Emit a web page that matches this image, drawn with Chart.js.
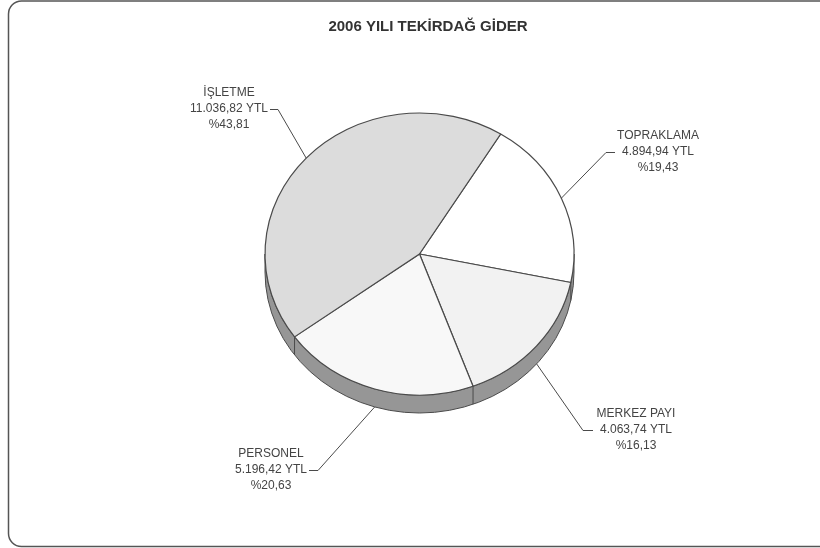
<!DOCTYPE html>
<html lang="tr">
<head>
<meta charset="utf-8">
<title>2006 YILI TEKİRDAĞ GİDER</title>
<script src="https://cdn.jsdelivr.net/npm/chart.js@4"></script>
<style>
    html, body { margin: 0; padding: 0; background: #fff; overflow: hidden; }
    #wrap { width: 820px; height: 548px; }
</style>
</head>
<body>
<div id="wrap"><canvas id="giderChart" width="820" height="548"></canvas></div>
<script>
// Veriler
const chartTitle = '2006 YILI TEKİRDAĞ GİDER';
const categories = ['TOPRAKLAMA', 'MERKEZ PAYI', 'PERSONEL', 'İŞLETME'];
const amounts = [4894.94, 4063.74, 5196.42, 11036.82];
const amountTexts = ['4.894,94 YTL', '4.063,74 YTL', '5.196,42 YTL', '11.036,82 YTL'];
const percentTexts = ['%19,43', '%16,13', '%20,63', '%43,81'];
const sliceColors = ['#ffffff', '#f2f2f2', '#f8f8f8', '#dcdcdc'];

// Etiket yerleşimi: dirsek noktası, çizgi sonu, metin merkezi
const elbowX = [606, 583, 318, 278];
const elbowY = [152, 430, 470, 109];
const leaderEndX = [615, 593, 309, 270];
const textCenterX = [658, 636, 271, 229];

const lineColor = '#4a4a4a';
const sideColor = '#969696';
const textColor = '#444444';
const squash = 141 / 154.5;  // pastanın eğik görünümü
const depth = 18;

// Çerçeve
const framePlugin = {
    id: 'frame',
    beforeDraw(chart) {
        const ctx = chart.ctx;
        ctx.save();
        ctx.strokeStyle = '#555555';
        ctx.lineWidth = 1.5;
        ctx.beginPath();
        ctx.roundRect(8.5, 1, 830, 545.5, 13);
        ctx.stroke();
        ctx.restore();
    },
    afterLayout(chart) {
        // başlık pastanın biraz sağında duruyor
        chart.titleBlock.left += 8.5;
        chart.titleBlock.right += 8.5;
    }
};

// Yan yüzey ve elips görünümü
const tiltPlugin = {
    id: 'tilt',
    beforeDatasetsDraw(chart) {
        const ctx = chart.ctx;
        const arcs = chart.getDatasetMeta(0).data;
        const { x, y, outerRadius: r } = arcs[0];
        const ry = r * squash;

        ctx.save();
        ctx.fillStyle = sideColor;
        ctx.strokeStyle = lineColor;
        ctx.lineWidth = 1;
        ctx.beginPath();
        ctx.ellipse(x, y + depth, r, ry, 0, 0, Math.PI);
        ctx.lineTo(x - r, y);
        ctx.ellipse(x, y, r, ry, 0, Math.PI, 0, true);
        ctx.closePath();
        ctx.fill();
        ctx.stroke();

        // dilim sınırlarının yan yüzeydeki çizgileri
        arcs.forEach(arc => {
            if (Math.sin(arc.startAngle) > 0) {
                const px = x + r * Math.cos(arc.startAngle);
                const py = y + ry * Math.sin(arc.startAngle);
                ctx.beginPath();
                ctx.moveTo(px, py);
                ctx.lineTo(px, py + depth);
                ctx.stroke();
            }
        });
        ctx.restore();

        // üst yüz
        ctx.save();
        ctx.translate(0, y);
        ctx.scale(1, squash);
        ctx.translate(0, -y);
    },
    afterDatasetsDraw(chart) {
        chart.ctx.restore();
    }
};

// Bağlantı çizgileri ve etiketler
const labelPlugin = {
    id: 'sliceLabels',
    afterDraw(chart) {
        const ctx = chart.ctx;
        const arcs = chart.getDatasetMeta(0).data;
        ctx.save();
        arcs.forEach((arc, i) => {
            const mid = (arc.startAngle + arc.endAngle) / 2;
            const r = arc.outerRadius;
            const sx = arc.x + r * Math.cos(mid);
            let sy = arc.y + r * squash * Math.sin(mid);
            if (Math.sin(mid) > 0.5) {
                sy += depth;
            }
            ctx.strokeStyle = lineColor;
            ctx.lineWidth = 1;
            ctx.beginPath();
            ctx.moveTo(sx, sy);
            ctx.lineTo(elbowX[i], elbowY[i] + 0.5);
            ctx.lineTo(leaderEndX[i], elbowY[i] + 0.5);
            ctx.stroke();

            ctx.fillStyle = textColor;
            ctx.font = '12px "Liberation Sans"';
            ctx.textAlign = 'center';
            ctx.textBaseline = 'middle';
            ctx.fillText(categories[i], textCenterX[i], elbowY[i] - 16);
            ctx.fillText(amountTexts[i], textCenterX[i], elbowY[i]);
            ctx.fillText(percentTexts[i], textCenterX[i], elbowY[i] + 16);
        });
        ctx.restore();
    }
};

new Chart(document.getElementById('giderChart').getContext('2d'), {
    type: 'pie',
    data: {
        labels: categories,
        datasets: [{
            data: amounts,
            backgroundColor: sliceColors,
            borderColor: lineColor,
            borderWidth: 1.2,
            clip: false
        }]
    },
    options: {
        responsive: false,
        animation: false,
        rotation: 31.7,
        radius: 154.5,
        layout: { padding: { left: 19, right: 0, top: 0, bottom: 76 } },
        plugins: {
            legend: { display: false },
            tooltip: { enabled: false },
            title: {
                display: true,
                text: chartTitle,
                color: '#333333',
                font: { family: '"Liberation Sans"', size: 15, weight: 'bold' },
                padding: { top: 18, bottom: 0 }
            }
        }
    },
    plugins: [framePlugin, tiltPlugin, labelPlugin]
});
</script>
</body>
</html>
